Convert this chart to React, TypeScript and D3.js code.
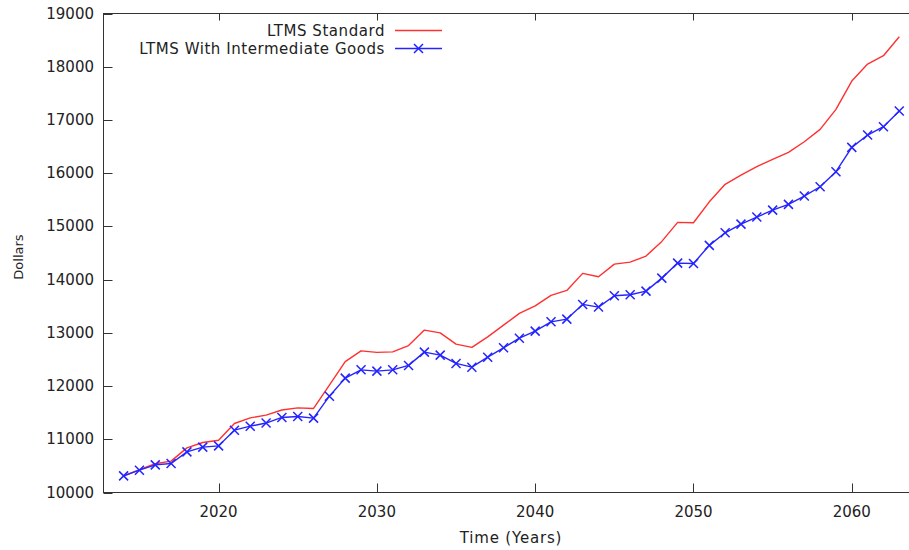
import React from "react";
import * as d3 from "d3";

const years: number[] = Array.from({ length: 50 }, (_, i) => 2014 + i);

const standard: number[] = [
  10310, 10430, 10540, 10590, 10838, 10940, 10983, 11297, 11402, 11453,
  11550, 11590, 11579, 12017, 12460, 12662, 12632, 12643, 12760, 13051,
  13000, 12788, 12726, 12925, 13145, 13365, 13508, 13703, 13797, 14117,
  14053, 14291, 14329, 14442, 14718, 15075, 15068, 15462, 15790, 15965,
  16125, 16259, 16391, 16590, 16823, 17199, 17731, 18051, 18207, 18564,
];

const intermediate: number[] = [
  10312, 10419, 10519, 10545, 10763, 10852, 10876, 11171, 11246, 11305,
  11410, 11429, 11397, 11810, 12149, 12305, 12280, 12305, 12388, 12637,
  12581, 12425, 12355, 12543, 12718, 12900, 13032, 13207, 13258, 13534,
  13484, 13696, 13715, 13784, 14028, 14310, 14304, 14643, 14880, 15043,
  15175, 15306, 15414, 15570, 15745, 16027, 16485, 16716, 16873, 17168,
];

const yTicks: number[] = [10000, 11000, 12000, 13000, 14000, 15000, 16000, 17000, 18000, 19000];
const xTicks: number[] = [2020, 2030, 2040, 2050, 2060];
const seriesNames: string[] = ["LTMS Standard", "LTMS With Intermediate Goods"];

const FONT = "'DejaVu Sans', Verdana, sans-serif";
const TXT = "#222";
const AX = "#333";
const RED = "#ff3030";
const BLUE = "#2424ff";

export default function App() {
  const left = 103.5;
  const top = 13.5;
  const bottom = 492.5;
  const pxPerYear = 15.83;
  const xMin = 2012.73;
  const xMax = 2064.2;
  const right = left + (xMax - xMin) * pxPerYear;

  const x = d3.scaleLinear().domain([xMin, xMax]).range([left, right]);
  const y = d3.scaleLinear().domain([10000, 19000]).range([bottom, top]);

  const line = d3
    .line<number>()
    .x((_, i) => x(years[i]))
    .y((d) => y(d));

  const cross = (cx: number, cy: number, s: number, key: string) => (
    <path
      key={key}
      d={`M${cx - s},${cy - s}L${cx + s},${cy + s}M${cx - s},${cy + s}L${cx + s},${cy - s}`}
      stroke={BLUE}
      strokeWidth={1.5}
      fill="none"
    />
  );

  const legendTextX = 385;
  const legendLineX0 = 395;
  const legendLineX1 = 442;
  const legendY = [30.5, 48.5];

  return (
    <svg
      width={909}
      height={550}
      style={{ position: "absolute", left: 0, top: 0, background: "#fff" }}
      fontFamily={FONT}
    >
      <rect x={0} y={0} width={909} height={550} fill="#fff" />
      {/* frame */}
      <rect x={left} y={top} width={right - left} height={bottom - top} fill="none" stroke={AX} strokeWidth={1} />
      {/* y ticks */}
      {yTicks.map((t) => (
        <g key={`yt${t}`}>
          <line x1={left} x2={left + 9} y1={Math.round(y(t)) + 0.5} y2={Math.round(y(t)) + 0.5} stroke={AX} />
          <text x={94} y={y(t)} textAnchor="end" dominantBaseline="central" fontSize={15} fill={TXT}>
            {t}
          </text>
        </g>
      ))}
      {/* x ticks */}
      {xTicks.map((t) => (
        <g key={`xt${t}`}>
          <line x1={Math.round(x(t)) + 0.5} x2={Math.round(x(t)) + 0.5} y1={bottom} y2={bottom - 9} stroke={AX} />
          <line x1={Math.round(x(t)) + 0.5} x2={Math.round(x(t)) + 0.5} y1={top} y2={top + 7} stroke={AX} />
          <text x={x(t)} y={512} textAnchor="middle" dominantBaseline="central" fontSize={15} fill={TXT}>
            {t}
          </text>
        </g>
      ))}
      {/* axis labels */}
      <text x={511} y={538} textAnchor="middle" dominantBaseline="central" fontSize={15} letterSpacing={0.8} fill={TXT}>
        Time (Years)
      </text>
      <text
        transform={`translate(18.5,257) rotate(-90)`}
        textAnchor="middle"
        dominantBaseline="central"
        fontSize={13}
        fill={TXT}
      >
        Dollars
      </text>
      {/* series */}
      <path d={line(standard) || ""} fill="none" stroke={RED} strokeWidth={1.4} strokeLinejoin="round" />
      <path d={line(intermediate) || ""} fill="none" stroke={BLUE} strokeWidth={1.4} strokeLinejoin="round" />
      {intermediate.map((v, i) => cross(x(years[i]), y(v), 4.5, `m${i}`))}
      {/* legend */}
      <text x={legendTextX} y={legendY[0]} textAnchor="end" dominantBaseline="central" fontSize={15} letterSpacing={0.55} fill={TXT}>
        {seriesNames[0]}
      </text>
      <line x1={legendLineX0} x2={legendLineX1} y1={legendY[0]} y2={legendY[0]} stroke={RED} strokeWidth={1.4} />
      <text x={legendTextX} y={legendY[1]} textAnchor="end" dominantBaseline="central" fontSize={15} letterSpacing={0.55} fill={TXT}>
        {seriesNames[1]}
      </text>
      <line x1={legendLineX0} x2={legendLineX1} y1={legendY[1]} y2={legendY[1]} stroke={BLUE} strokeWidth={1.4} />
      {cross((legendLineX0 + legendLineX1) / 2, legendY[1], 4.5, "legm")}
    </svg>
  );
}
